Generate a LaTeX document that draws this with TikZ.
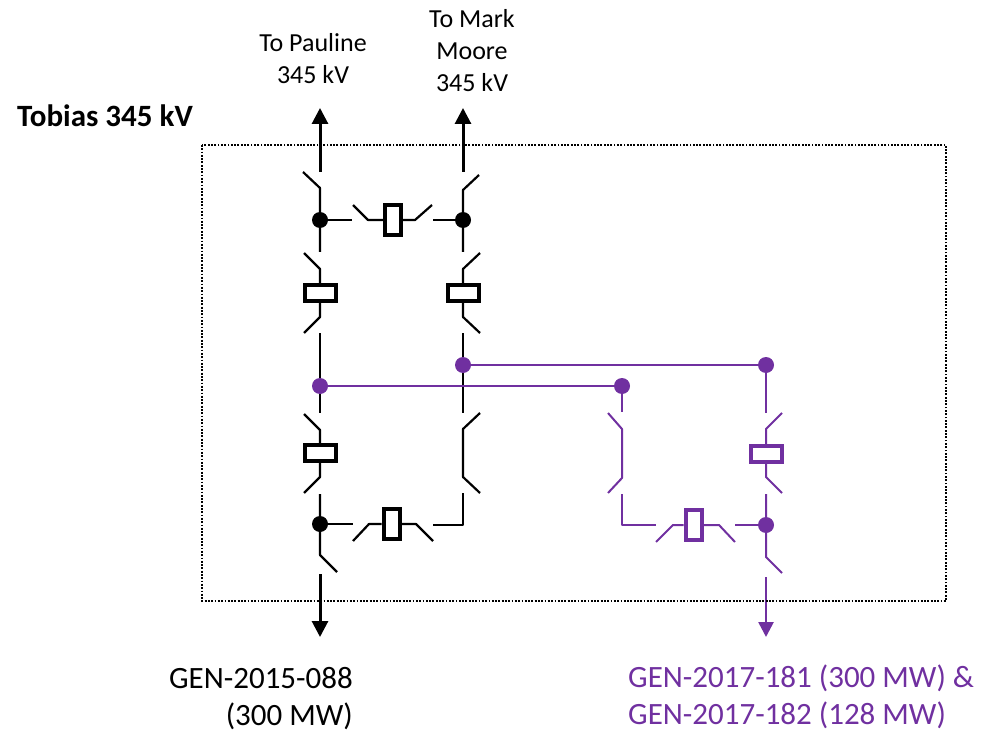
\documentclass[tikz,border=0pt]{standalone}
\usepackage{fontspec}
\setmainfont{Carlito}
\usetikzlibrary{arrows.meta}
\definecolor{pur}{HTML}{7030A0}
\pgfdeclarelayer{bg}
\pgfsetlayers{bg,main}
\begin{document}
\begin{tikzpicture}[x=1pt,y=-1pt,
  wire/.style={line width=2.2pt,line join=round},
  pwire/.style={line width=2pt,line join=round,draw=pur},
  arr/.style={line width=3pt,-{Triangle[width=16pt,length=16pt]}},
  parr/.style={line width=2.6pt,draw=pur,-{Triangle[width=15pt,length=15pt]}},
  hbrk/.style={draw,line width=4pt,fill=white,minimum width=31pt,minimum height=16pt,inner sep=0},
  vbrk/.style={draw,line width=4pt,fill=white,minimum width=16pt,minimum height=30pt,inner sep=0},
  jdot/.style={circle,fill,inner sep=0,minimum size=16pt},
  lab/.style={font=\fontsize{26}{32}\selectfont,inner sep=0,anchor=base},
  gen/.style={font=\fontsize{31}{37}\selectfont,inner sep=0},
]
\useasboundingbox (0,0) rectangle (990,735);
\draw[line width=1.3pt,dash pattern=on 1.8pt off 1.5pt] (202,145) rectangle (946,601);

% junctions and breakers
\node[jdot] (J1) at (320,220) {};
\node[jdot] (J2) at (463,220) {};
\node[jdot] (J3) at (320,524) {};
\node[hbrk] (BL1) at (320,293) {};
\node[hbrk] (BL2) at (320,453) {};
\node[hbrk] (BR1) at (463,293) {};
\node[vbrk] (BT) at (393,220) {};
\node[vbrk] (BB) at (391.5,524) {};
\node[jdot,fill=pur] (P1) at (320,386) {};
\node[jdot,fill=pur] (P2) at (463,365) {};
\node[jdot,fill=pur] (P3) at (622,386) {};
\node[jdot,fill=pur] (P4) at (766,365) {};
\node[jdot,fill=pur] (P5) at (766,525) {};
\node[hbrk,draw=pur] (BP1) at (766,454) {};
\node[vbrk,draw=pur] (BP2) at (693.5,525) {};

\begin{pgfonlayer}{bg}
% left column
\draw[arr] (320,172) -- (320,108);
\draw[wire] (303,172) -- (320,188) -- (J1.center) -- (320,252);
\draw[wire] (304,253) -- (320,269) -- (BL1.north);
\draw[wire] (BL1.south) -- (320,317) -- (304,333);
\draw[wire] (320,333) -- (320,413);
\draw[wire] (304,414) -- (320,430) -- (BL2.north);
\draw[wire] (BL2.south) -- (320,477) -- (304,493);
\draw[wire] (320,494) -- (J3.center) -- (320,555) -- (337,572);
\draw[arr] (320,574) -- (320,637);
% right column
\draw[arr] (463,172) -- (463,108);
\draw[wire] (479,175) -- (463,190) -- (J2.center) -- (463,252);
\draw[wire] (480,253) -- (463,269) -- (BR1.north);
\draw[wire] (BR1.south) -- (463,317) -- (480,333);
\draw[wire] (463,333) -- (463,413);
\draw[wire] (480,413) -- (463,429) -- (463,477) -- (480,493);
\draw[wire] (463,493) -- (463,525) -- (433,525);
% top link
\draw[wire] (J1.center) -- (352,220);
\draw[wire] (353,205) -- (368,220) -- (BT.west);
\draw[wire] (BT.east) -- (415,220) -- (432,205);
\draw[wire] (433,220) -- (J2.center);
% bottom link
\draw[wire] (J3.center) -- (353,524);
\draw[wire] (353,541) -- (369,524) -- (BB.west);
\draw[wire] (BB.east) -- (416,524) -- (433,541);
% purple
\draw[pwire] (P1.center) -- (P3.center);
\draw[pwire] (P2.center) -- (P4.center);
\draw[pwire] (P3.center) -- (622,412);
\draw[pwire] (608,413) -- (622,429) -- (622,478) -- (608,493);
\draw[pwire] (622,494) -- (622,525) -- (656,525);
\draw[pwire] (656,542) -- (673,525) -- (BP2.west);
\draw[pwire] (BP2.east) -- (719,525) -- (735,542);
\draw[pwire] (735,525) -- (P5.center);
\draw[pwire] (P4.center) -- (766,413);
\draw[pwire] (782,413) -- (766,429) -- (BP1.north);
\draw[pwire] (BP1.south) -- (766,477) -- (782,493);
\draw[pwire] (766,494) -- (P5.center) -- (766,557) -- (782,573);
\draw[parr] (766,577) -- (766,637);
\end{pgfonlayer}

% labels
\node[lab] (t1) at (313,52) {To Pauline};
\node[lab] (t2) at (313,84) {345 kV};
\node[lab] (t3) at (472,28) {To Mark};
\node[lab] (t4) at (472,60) {Moore};
\node[lab] (t5) at (472,92) {345 kV};
\node[inner sep=0,anchor=base west,font=\fontsize{31}{37}\selectfont\bfseries] (tob) at (17,127) {Tobias 345 kV};
\node[gen,anchor=base east] (g1) at (353,688) {GEN-2015-088};
\node[gen,anchor=base east] (g2) at (353,725) {(300 MW)};
\node[gen,anchor=base west,text=pur] (g3) at (628,687) {GEN-2017-181 (300 MW) \&};
\node[gen,anchor=base west,text=pur] (g4) at (628,724) {GEN-2017-182 (128 MW)};
\end{tikzpicture}
\end{document}
